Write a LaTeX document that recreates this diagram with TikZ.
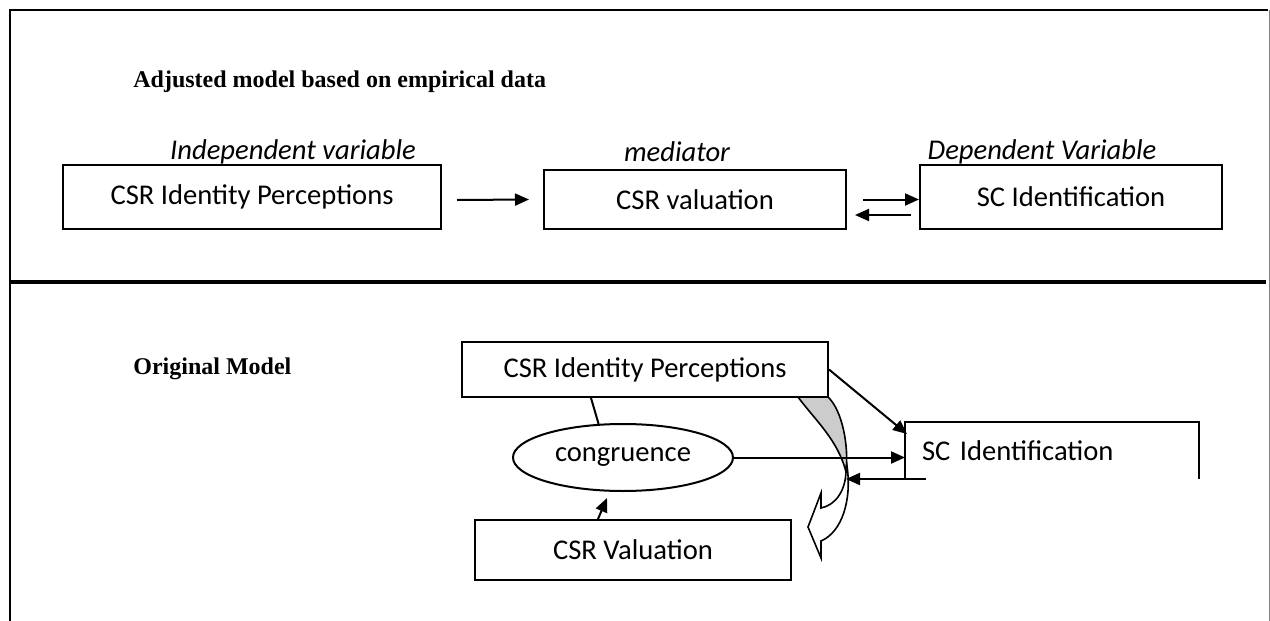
\documentclass[tikz,border=0pt]{standalone}
\usepackage{fontspec}
\setmainfont{Carlito}
\newfontfamily\titlefont{Liberation Serif}
\usetikzlibrary{arrows.meta,shapes.geometric}

\tikzset{
  box/.style={draw, line width=1pt, fill=white, inner sep=0pt, font=\fontsize{14.3}{17}\selectfont},
  varlabel/.style={font=\fontsize{14.3}{17}\selectfont\itshape},
  heading/.style={anchor=west, inner sep=0pt, font=\titlefont\fontsize{12}{14}\selectfont\bfseries},
  arr/.style={line width=1pt, -{Triangle[length=7pt,width=6pt]}},
}

\begin{document}
\begin{tikzpicture}[x=0.5pt, y=-0.5pt]
	\useasboundingbox (0,0) rectangle (1270,621);
	% frame and divider
	\draw[line width=0.8pt] (10,621) -- (10,10) -- (1268,10);
	\draw[line width=0.5pt, gray] (1269,10) -- (1269,621);
	\draw[line width=2pt] (10,282) -- (1266,282);

	% adjusted model
	\node[heading] (adjusted) at (133,82) {Adjusted model based on empirical data};
	\node[varlabel] (indep) at (293,152) {Independent variable};
	\node[varlabel] (med) at (677,152) {mediator};
	\node[varlabel] (dep) at (1042,152) {Dependent Variable};

	\node[box, minimum width=189pt, minimum height=32pt] (idA) at (252,197) {CSR Identity Perceptions};
	\node[box, minimum width=151pt, minimum height=29.5pt] (valA) at (695,199.5) {CSR valuation};
	\node[box, minimum width=151pt, minimum height=32pt] (scA) at (1071,197) {SC Identification};

	\draw[arr] ([xshift=7.5pt,yshift=-1.5pt]idA.east) -- ([xshift=-7pt]valA.west);
	\draw[arr] ([xshift=8pt]valA.east) -- (valA.east -| scA.west);
	\draw[arr] ([xshift=-4pt,yshift=-7.75pt]valA.east -| scA.west) -- ([xshift=4pt,yshift=-7.75pt]valA.east);

	% original model
	\node[heading] (original) at (133,369) {Original Model};

	% curved arrow
	\draw[line width=0.8pt, fill=gray!40] (798,397) -- (828,397) .. controls (842,410) and (849,445) .. (846,472)
		.. controls (838,440) and (815,420) .. (798,397);
	\draw[line width=0.8pt, fill=white] (846,470) .. controls (846,490) and (836,505) .. (821,508)
		-- (821,493) -- (808,527) -- (821,558) -- (821,541)
		.. controls (842,532) and (852,500) .. (847,466) -- cycle;

	\node[box, minimum width=183pt, minimum height=27.5pt] (idB) at (645,369.5) {CSR Identity Perceptions};
	\node[draw, ellipse, line width=1pt, minimum width=110pt, minimum height=33.5pt, inner sep=0pt,
		font=\fontsize{14.3}{17}\selectfont] (cong) at (623,457.5) {congruence};
	\node[box, minimum width=158pt, minimum height=30pt] (valB) at (633,550) {CSR Valuation};
	% SC box shows no bottom edge
	\node[box, draw=none, text width=130pt, align=left, inner xsep=8pt, minimum height=27.5pt] (scB) at (1052,450.5) {SC Identification};
	\draw[line width=1pt] (scB.south west) -- (scB.north west) -- (scB.north east) -- (scB.south east);

	\draw[line width=1pt] ([xshift=65pt]idB.south west) -- (cong.126);
	\draw[arr] ([xshift=-17.5pt]valB.north) -- ([xshift=-8pt,yshift=-3pt]cong.south);
	\draw[arr] (cong.east) -- (cong.east -| scB.west);
	\draw[arr] (idB.east) -- ([xshift=1pt,yshift=-6pt]scB.north west);
	\draw[arr] ([xshift=10.5pt]scB.south west) -- ([xshift=-29.5pt]scB.south west);
\end{tikzpicture}
\end{document}
